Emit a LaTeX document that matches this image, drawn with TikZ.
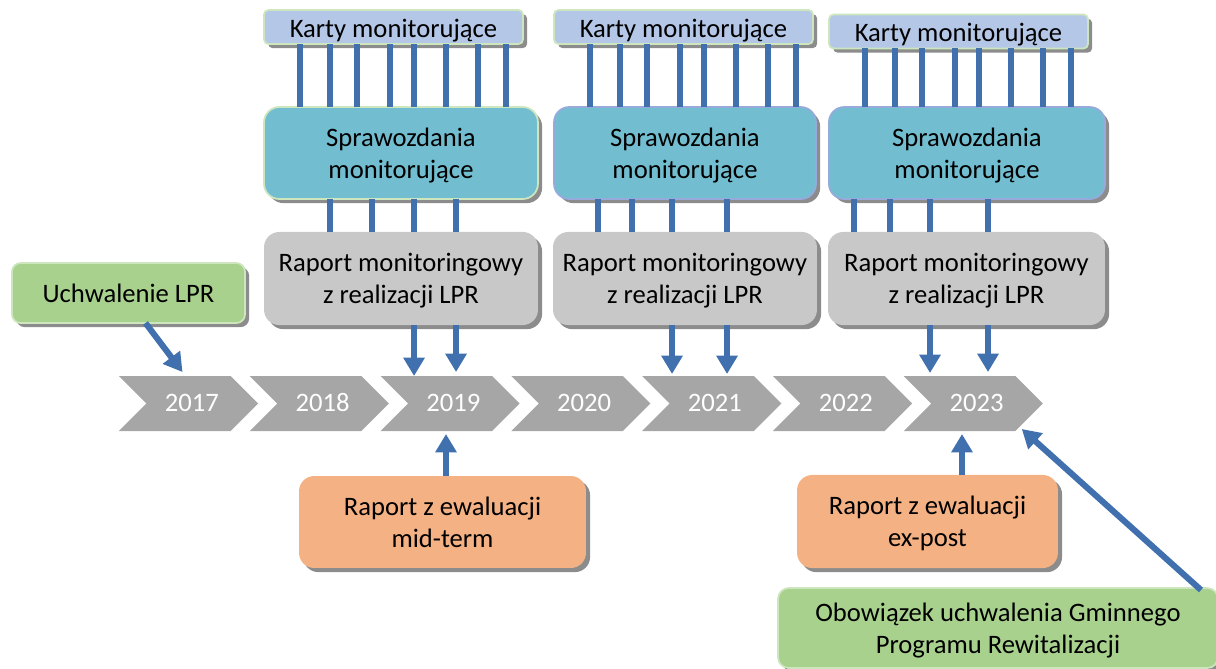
\documentclass[tikz,border=0pt]{standalone}
\usepackage{fontspec}
\setmainfont{Carlito}
\usepackage{xcolor}
\definecolor{Linia}{RGB}{64,112,174}
\definecolor{Rok}{RGB}{166,166,166}
\definecolor{Karta}{RGB}{180,199,231}
\definecolor{Spraw}{RGB}{114,190,208}
\definecolor{Raport}{RGB}{200,200,200}
\definecolor{Zielony}{RGB}{169,209,142}
\definecolor{Pomar}{RGB}{244,177,131}
\definecolor{RamkaZ}{RGB}{205,230,190}
\definecolor{RamkaN}{RGB}{150,170,220}
\usetikzlibrary{calc, arrows.meta, shapes.symbols, shadows}

\begin{document}
\begin{tikzpicture}[
  x=0.46pt, y=-0.46pt,
  font=\fontsize{12.25}{14.7}\selectfont,
  box/.style={
    rectangle, rounded corners=7pt,
    fill=#1, draw=none, line width=0.8pt,
    align=center, inner sep=0pt, outer sep=0pt, text depth=0pt,
    drop shadow={shadow xshift=1.9pt, shadow yshift=-1.9pt,
                 fill=black!50, opacity=0.9}
  },
  karta/.style={
    box=Karta, draw=RamkaZ, rounded corners=2pt,
    minimum width=119.1pt, minimum height=15.6pt, text height=9.5pt
  },
  rok/.style={
    signal, signal from=west, signal to=east,
    fill=Rok, text=white, inner sep=0pt, outer sep=0pt,
    text height=1.6ex, text depth=0pt,
    minimum width=64pt, minimum height=25.3pt
  },
  link/.style={line width=2.8pt, color=Linia},
  arr/.style={
    -{Triangle[length=8.5pt, width=9.5pt]},
    line width=2.8pt, color=Linia
  }
]
\useasboundingbox (0,0) rectangle (1216,668);

%% ═══════════════════════════════════════════════
%% Oś czasu
%% ═══════════════════════════════════════════════
\foreach \yr [count=\i from 0] in {2017,...,2023}
  \node[rok] (y\yr) at (188.5+130.8*\i, 403.5) {\hspace{3pt}\yr};

%% ═══════════════════════════════════════════════
%% Karty monitorujące
%% ═══════════════════════════════════════════════
\node[karta] (karta1) at (393.5, 27) {Karty monitorujące};
\node[karta] (karta2) at (683.5, 27) {Karty monitorujące};
\node[karta] (karta3) at (958.5, 31.5) {Karty monitorujące};

%% ═══════════════════════════════════════════════
%% Sprawozdania monitorujące
%% ═══════════════════════════════════════════════
\node[box=Spraw, draw=RamkaZ, minimum width=126pt, minimum height=42.3pt]
  (spraw1) at (401, 153) {Sprawozdania\\monitorujące};
\node[box=Spraw, draw=RamkaN, minimum width=120.5pt, minimum height=42.3pt]
  (spraw2) at (685, 153) {Sprawozdania\\monitorujące};
\node[box=Spraw, draw=RamkaN, minimum width=127pt, minimum height=42.3pt]
  (spraw3) at (967, 153) {Sprawozdania\\monitorujące};

%% ═══════════════════════════════════════════════
%% Raporty monitoringowe
%% ═══════════════════════════════════════════════
\node[box=Raport, minimum width=126pt, minimum height=42.8pt]
  (rap1) at (401, 278.5) {Raport monitoringowy\\z realizacji LPR};
\node[box=Raport, minimum width=121.4pt, minimum height=42.8pt]
  (rap2) at (685, 278.5) {Raport monitoringowy\\z realizacji LPR};
\node[box=Raport, minimum width=127.4pt, minimum height=42.8pt]
  (rap3) at (966.5, 278.5) {Raport monitoringowy\\z realizacji LPR};

%% ═══════════════════════════════════════════════
%% Uchwalenie, ewaluacje, GPR
%% ═══════════════════════════════════════════════
\node[box=Zielony, draw=RamkaZ, rounded corners=4pt,
      minimum width=107.2pt, minimum height=27.6pt]
  (uchw) at (128.5, 293) {Uchwalenie LPR};

\node[box=Pomar, minimum width=132pt, minimum height=42.3pt]
  (ewal1) at (442.5, 522) {Raport z ewaluacji\\mid-term};
\node[box=Pomar, minimum width=120pt, minimum height=42.8pt]
  (ewal2) at (927.5, 521.5) {Raport z ewaluacji\\ex-post};

\node[box=Zielony, draw=RamkaZ, rounded corners=5pt,
      minimum width=202.4pt, minimum height=36.8pt]
  (gpr) at (998, 628)
  {Obowiązek uchwalenia Gminnego\\Programu Rewitalizacji};

%% ── Linie: karty → sprawozdania ─────────────────────────────────────────
\foreach \n in {1,2,3}
  \foreach \dx in {36,66,93,126,150,182,214,242}
    \draw[link] ($(karta\n.south west)+(\dx,0)$) coordinate (a)
      -- (a |- spraw\n.north);

%% ── Linie: sprawozdania → raporty ───────────────────────────────────────
\foreach \dx in {66,108,150,192}
  \draw[link] ($(spraw1.south west)+(\dx,0)$) coordinate (a) -- (a |- rap1.north);
\foreach \dx in {44,78,118,173}
  \draw[link] ($(spraw2.south west)+(\dx,0)$) coordinate (a) -- (a |- rap2.north);
\foreach \dx in {25,61,101,159}
  \draw[link] ($(spraw3.south west)+(\dx,0)$) coordinate (a) -- (a |- rap3.north);

%% ── Strzałki: raporty → oś czasu ────────────────────────────────────────
\draw[arr] ($(rap1.south west)+(150,0)$) coordinate (a) -- (a |- y2019.north);
\draw[arr] ($(rap1.south west)+(192,0)$) coordinate (a) -- ($(a |- y2019.north)+(0,-4)$);
\draw[arr] ($(rap2.south west)+(119,0)$) coordinate (a) -- ($(a |- y2021.north)+(0,-2)$);
\draw[arr] ($(rap2.south west)+(174,0)$) coordinate (a) -- ($(a |- y2021.north)+(0,-2)$);
\draw[arr] ($(rap3.south west)+(102,0)$) coordinate (a) -- ($(a |- y2023.north)+(0,-3)$);
\draw[arr] ($(rap3.south west)+(160,0)$) coordinate (a) -- ($(a |- y2023.north)+(0,-4)$);

%% Uchwalenie → 2017
\draw[arr] ($(uchw.south)+(17,0)$) -- ($(y2017.north)+(-6,-4)$);

%% Ewaluacje → oś czasu
\draw[arr] ($(ewal1.north)+(3.5,0)$) coordinate (a) -- ($(a |- y2019.south)+(0,3)$);
\draw[arr] ($(ewal2.north)+(34.5,0)$) coordinate (a) -- ($(a |- y2023.south)+(0,3)$);

%% GPR → 2023
\draw[arr] ($(gpr.north east)+(-17,2)$) -- ($(y2023.center)+(48.5,25.5)$);

\end{tikzpicture}
\end{document}
